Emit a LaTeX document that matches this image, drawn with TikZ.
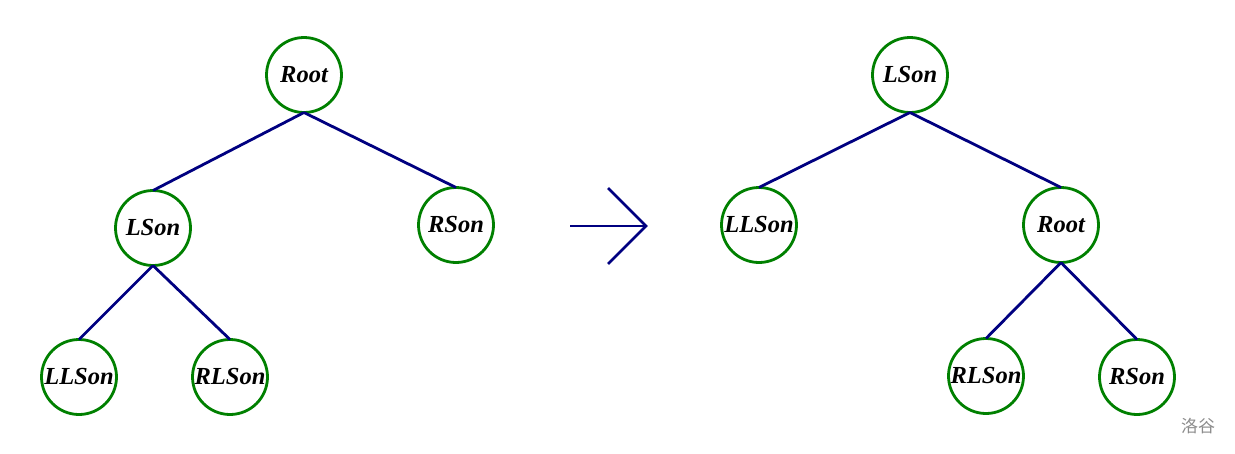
\documentclass[tikz,border=0pt]{standalone}
\usepackage{fontspec}
\setmainfont{Liberation Serif}
\newfontfamily\cjk{Noto Sans CJK SC}
\definecolor{navyc}{RGB}{0,0,128}
\definecolor{greenc}{RGB}{0,128,0}
\begin{document}
\begin{tikzpicture}[x=1pt,y=-1pt,
  tnode/.style={circle,draw=greenc,line width=2.8pt,minimum size=75pt,inner sep=0pt,outer sep=0pt,
    font=\fontsize{24.5}{26}\selectfont\bfseries\itshape},
  edge/.style={draw=navyc,line width=2.8pt}]
\useasboundingbox (0,0) rectangle (1235,453);
% left tree
\node[tnode] (r1) at (304,75) {Root};
\node[tnode] (l1) at (153,228) {LSon};
\node[tnode] (rs1) at (456,225) {RSon};
\node[tnode] (ll1) at (79,377) {LLSon};
\node[tnode] (rl1) at (230,377) {RLSon};
\draw[edge] (r1.south) -- (l1.north);
\draw[edge] (r1.south) -- (rs1.north);
\draw[edge] (l1.south) -- (ll1.north);
\draw[edge] (l1.south) -- (rl1.north);
% arrow
\coordinate (a0) at (570,226);
\coordinate (a1) at (646,226);
\coordinate (a2) at (608,188);
\coordinate (a3) at (608,264);
\draw[edge] (a0) -- (a1);
\draw[edge,line join=miter] (a2) -- (a1) -- (a3);
% right tree
\node[tnode] (l2) at (910,75) {LSon};
\node[tnode] (ll2) at (759,225) {LLSon};
\node[tnode] (r2) at (1061,225) {Root};
\node[tnode] (rl2) at (986,376) {RLSon};
\node[tnode] (rs2) at (1137,377) {RSon};
\draw[edge] (l2.south) -- (ll2.north);
\draw[edge] (l2.south) -- (r2.north);
\draw[edge] (r2.south) -- (rl2.north);
\draw[edge] (r2.south) -- (rs2.north);
% watermark
\node[text=black!45,font=\cjk\fontsize{17}{19}\selectfont] (wm) at (1198,426) {洛谷};
\end{tikzpicture}
\end{document}
